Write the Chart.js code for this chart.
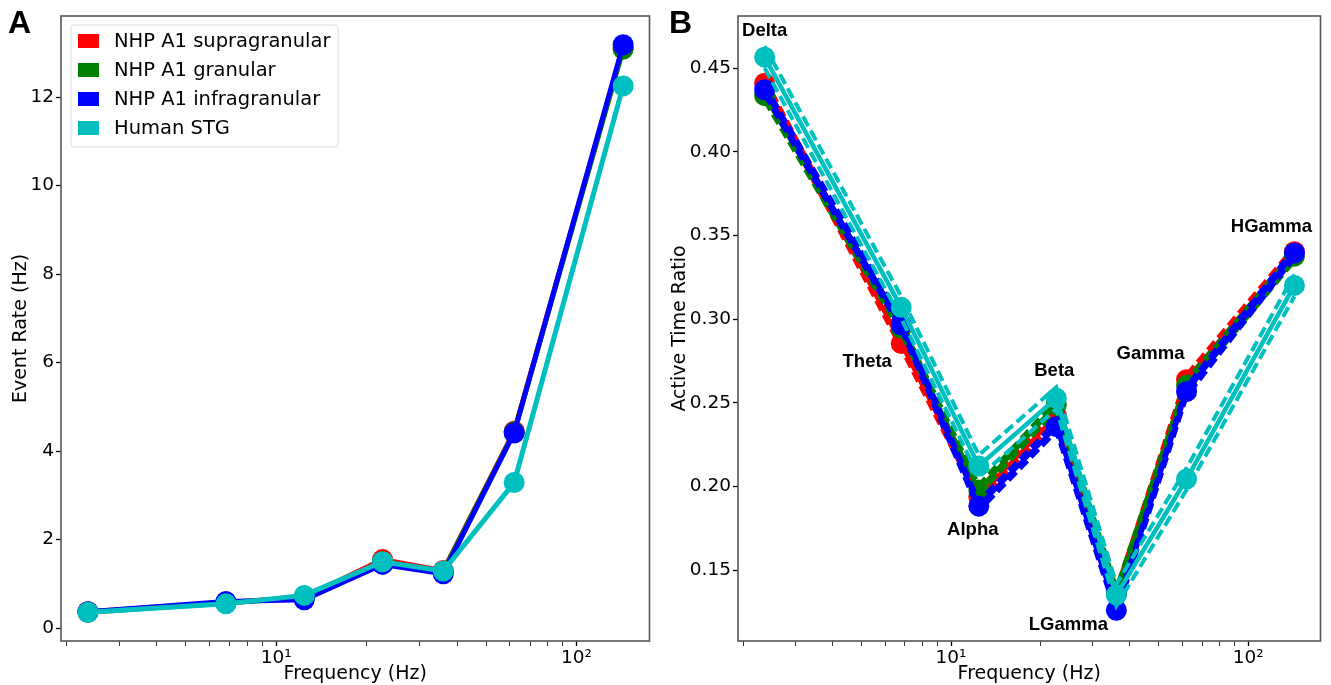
<!DOCTYPE html>
<html>
<head>
<meta charset="utf-8">
<script src="https://cdn.jsdelivr.net/npm/chart.js@4.4.0/dist/chart.umd.min.js"></script>
<style>
  body { margin: 0; background: #fff; width: 1331px; height: 685px; overflow: hidden; position: relative; }
  canvas { position: absolute; top: 0; }
  #rateChart { left: 0; }
  #ratioChart { left: 660px; }
  .panel-tag { position: absolute; font: bold 32px "Liberation Sans", Arial, sans-serif; color: #000; line-height: 1; }
</style>
</head>
<body>
<canvas id="rateChart" width="660" height="685"></canvas>
<canvas id="ratioChart" width="671" height="685"></canvas>
<div class="panel-tag" style="left:8px; top:6px">A</div>
<div class="panel-tag" style="left:669px; top:6px">B</div>
<script>
// band centre frequencies (Hz)
const freqs = [2.36, 6.8, 12.4, 22.6, 36, 62, 143];
const bandNames = ["Delta", "Theta", "Alpha", "Beta", "LGamma", "Gamma", "HGamma"];
const seriesNames = ["NHP A1 supragranular", "NHP A1 granular", "NHP A1 infragranular", "Human STG"];

// event rate (Hz) per band
const rateSupra = [0.37, 0.58, 0.70, 1.55, 1.30, 4.45, 13.12];
const rateGran  = [0.36, 0.57, 0.70, 1.50, 1.28, 4.43, 13.08];
const rateInfra = [0.37, 0.60, 0.64, 1.44, 1.23, 4.41, 13.18];
const rateStg   = [0.36, 0.55, 0.74, 1.50, 1.29, 3.29, 12.25];

// active time ratio per band: mean, upper and lower dashed bounds
const ratioSupra   = [0.4409, 0.2854, 0.1940, 0.2422, 0.1355, 0.2637, 0.3402];
const ratioSupraHi = [0.4439, 0.2884, 0.1970, 0.2452, 0.1385, 0.2667, 0.3432];
const ratioSupraLo = [0.4379, 0.2824, 0.1910, 0.2392, 0.1325, 0.2607, 0.3372];
const ratioGran    = [0.4335, 0.2945, 0.1978, 0.2488, 0.1364, 0.2605, 0.3376];
const ratioGranHi  = [0.4365, 0.2975, 0.2008, 0.2518, 0.1394, 0.2635, 0.3406];
const ratioGranLo  = [0.4305, 0.2915, 0.1948, 0.2458, 0.1334, 0.2575, 0.3346];
const ratioInfra   = [0.4370, 0.2966, 0.1882, 0.2357, 0.1260, 0.2566, 0.3395];
const ratioInfraHi = [0.4400, 0.2996, 0.1912, 0.2387, 0.1290, 0.2596, 0.3425];
const ratioInfraLo = [0.4340, 0.2936, 0.1852, 0.2327, 0.1230, 0.2536, 0.3365];
const ratioStg     = [0.4565, 0.3070, 0.2122, 0.2527, 0.1351, 0.2044, 0.3201];
const ratioStgHi   = [0.4630, 0.3135, 0.2187, 0.2592, 0.1416, 0.2109, 0.3266];
const ratioStgLo   = [0.4500, 0.3005, 0.2057, 0.2462, 0.1286, 0.1979, 0.3136];

// axis ticks
const rateTicks = [0, 2, 4, 6, 8, 10, 12];
const ratioTicks = [0.15, 0.20, 0.25, 0.30, 0.35, 0.40, 0.45];
const freqMajorTicks = [10, 100];
const freqMajorLabels = ["10¹", "10²"];
const freqMinorTicks = [2, 3, 4, 5, 6, 7, 8, 9, 20, 30, 40, 50, 60, 70, 80, 90];

const colors = ["#ff0000", "#008000", "#0000ff", "#00bfbf"];
const tickFont = { family: "DejaVu Sans", size: 18.5 };
const titleFont = { family: "DejaVu Sans", size: 19 };

Chart.defaults.animation = false;
Chart.defaults.responsive = false;
Chart.defaults.devicePixelRatio = 1;

const toPoints = (vals) => freqs.map((f, i) => ({ x: f, y: vals[i] }));

function freqAxis() {
  return {
    type: "logarithmic",
    min: 1.92,
    max: 175,
    afterBuildTicks: (s) => {
      s.ticks = freqMinorTicks.concat(freqMajorTicks).sort((a, b) => a - b).map((v) => ({ value: v }));
    },
    afterFit: (s) => { s.height = 44; },
    grid: {
      drawOnChartArea: false,
      tickLength: 5,
      tickColor: "#000",
      tickWidth: (c) => (c.tick && freqMajorTicks.includes(c.tick.value) ? 1.3 : 0.8),
    },
    border: { display: false },
    ticks: {
      autoSkip: false,
      maxRotation: 0,
      padding: 1,
      color: "#000",
      font: tickFont,
      callback: (v) => {
        const i = freqMajorTicks.indexOf(v);
        return i < 0 ? "" : freqMajorLabels[i];
      },
    },
    title: { display: true, text: "Frequency (Hz)", color: "#000", font: titleFont, padding: 0 },
  };
}

function valueAxis(min, max, tickVals, width, title, fmt) {
  return {
    type: "linear",
    min: min,
    max: max,
    afterBuildTicks: (s) => { s.ticks = tickVals.map((v) => ({ value: v })); },
    afterFit: (s) => { s.width = width; },
    grid: { drawOnChartArea: false, tickLength: 5, tickColor: "#000", tickWidth: 1.3 },
    border: { display: false },
    ticks: { padding: 2, color: "#000", font: tickFont, callback: fmt },
    title: { display: true, text: title, color: "#000", font: titleFont, padding: { top: 0, bottom: 2 } },
  };
}

// axes frame on all four sides
const frame = {
  id: "frame",
  afterDatasetsDraw(chart) {
    const { ctx, chartArea: a } = chart;
    ctx.save();
    ctx.strokeStyle = "#555";
    ctx.lineWidth = 1.6;
    ctx.strokeRect(a.left, a.top, a.right - a.left, a.bottom - a.top);
    ctx.restore();
  },
};

// legend box in the upper left corner of the event-rate panel
const cornerLegend = {
  id: "cornerLegend",
  afterDraw(chart) {
    const { ctx, chartArea: a } = chart;
    const x = a.left + 10, y = a.top + 9, w = 267, h = 122;
    ctx.save();
    ctx.fillStyle = "rgba(255,255,255,0.8)";
    ctx.strokeStyle = "#dcdcdc";
    ctx.lineWidth = 1;
    ctx.beginPath();
    ctx.roundRect(x, y, w, h, 3);
    ctx.fill();
    ctx.stroke();
    ctx.font = '19.5px "DejaVu Sans"';
    ctx.textBaseline = "middle";
    seriesNames.forEach((name, i) => {
      const cy = y + 16 + i * 29;
      ctx.fillStyle = colors[i];
      ctx.fillRect(x + 7, cy - 7, 21, 14);
      ctx.fillStyle = "#000";
      ctx.fillText(name, x + 43, cy + 1);
    });
    ctx.restore();
  },
};

// band names next to the Human STG points
const bandLabelOffsets = [[0, -26], [-34, 55], [-6, 64], [-2, -27], [-48, 30], [-36, -125], [-23, -59]];
const bandLabels = {
  id: "bandLabels",
  afterDatasetsDraw(chart) {
    const { ctx } = chart;
    const idx = chart.data.datasets.findIndex((d) => d.label === "Human STG");
    const pts = chart.getDatasetMeta(idx).data;
    ctx.save();
    ctx.font = 'bold 18.5px "Liberation Sans"';
    ctx.fillStyle = "#000";
    ctx.textAlign = "center";
    ctx.textBaseline = "middle";
    bandNames.forEach((name, i) => {
      const [dx, dy] = bandLabelOffsets[i];
      ctx.fillText(name, pts[i].x + dx, pts[i].y + dy);
    });
    ctx.restore();
  },
};

const rateSeries = [rateSupra, rateGran, rateInfra, rateStg];
const rateDatasets = rateSeries.map((vals, i) => ({
  label: seriesNames[i],
  data: toPoints(vals),
  borderColor: colors[i],
  backgroundColor: colors[i],
  borderWidth: 5,
  pointRadius: 10.5,
  pointHoverRadius: 10.5,
  pointBorderWidth: 0,
  order: 3 - i,
}));

new Chart(document.getElementById("rateChart"), {
  type: "line",
  data: { datasets: rateDatasets },
  options: {
    layout: { padding: { left: 10, top: 16, right: 10, bottom: 0 } },
    plugins: { legend: { display: false }, tooltip: { enabled: false } },
    scales: {
      x: freqAxis(),
      y: valueAxis(-0.29, 13.83, rateTicks, 51, "Event Rate (Hz)", (v) => String(v)),
    },
  },
  plugins: [frame, cornerLegend],
});

const ratioSeries = [
  [ratioSupra, ratioSupraHi, ratioSupraLo],
  [ratioGran, ratioGranHi, ratioGranLo],
  [ratioInfra, ratioInfraHi, ratioInfraLo],
  [ratioStg, ratioStgHi, ratioStgLo],
];
const ratioDatasets = [];
ratioSeries.forEach(([mean, hi, lo], i) => {
  const base = (3 - i) * 2;
  [hi, lo].forEach((vals) => {
    ratioDatasets.push({
      label: seriesNames[i] + " bound",
      data: toPoints(vals),
      borderColor: colors[i],
      borderWidth: 4,
      borderDash: [11, 5],
      pointRadius: 0,
      order: base + 1,
    });
  });
  ratioDatasets.push({
    label: seriesNames[i],
    data: toPoints(mean),
    borderColor: colors[i],
    backgroundColor: colors[i],
    borderWidth: 4.5,
    pointRadius: 10.5,
    pointHoverRadius: 10.5,
    pointBorderWidth: 0,
    order: base,
  });
});

new Chart(document.getElementById("ratioChart"), {
  type: "line",
  data: { datasets: ratioDatasets },
  options: {
    layout: { padding: { left: 9, top: 16, right: 6, bottom: 0 } },
    plugins: { legend: { display: false }, tooltip: { enabled: false } },
    scales: {
      x: freqAxis(),
      y: valueAxis(0.1076, 0.4811, ratioTicks, 69, "Active Time Ratio", (v) => v.toFixed(2)),
    },
  },
  plugins: [frame, bandLabels],
});
</script>
</body>
</html>
